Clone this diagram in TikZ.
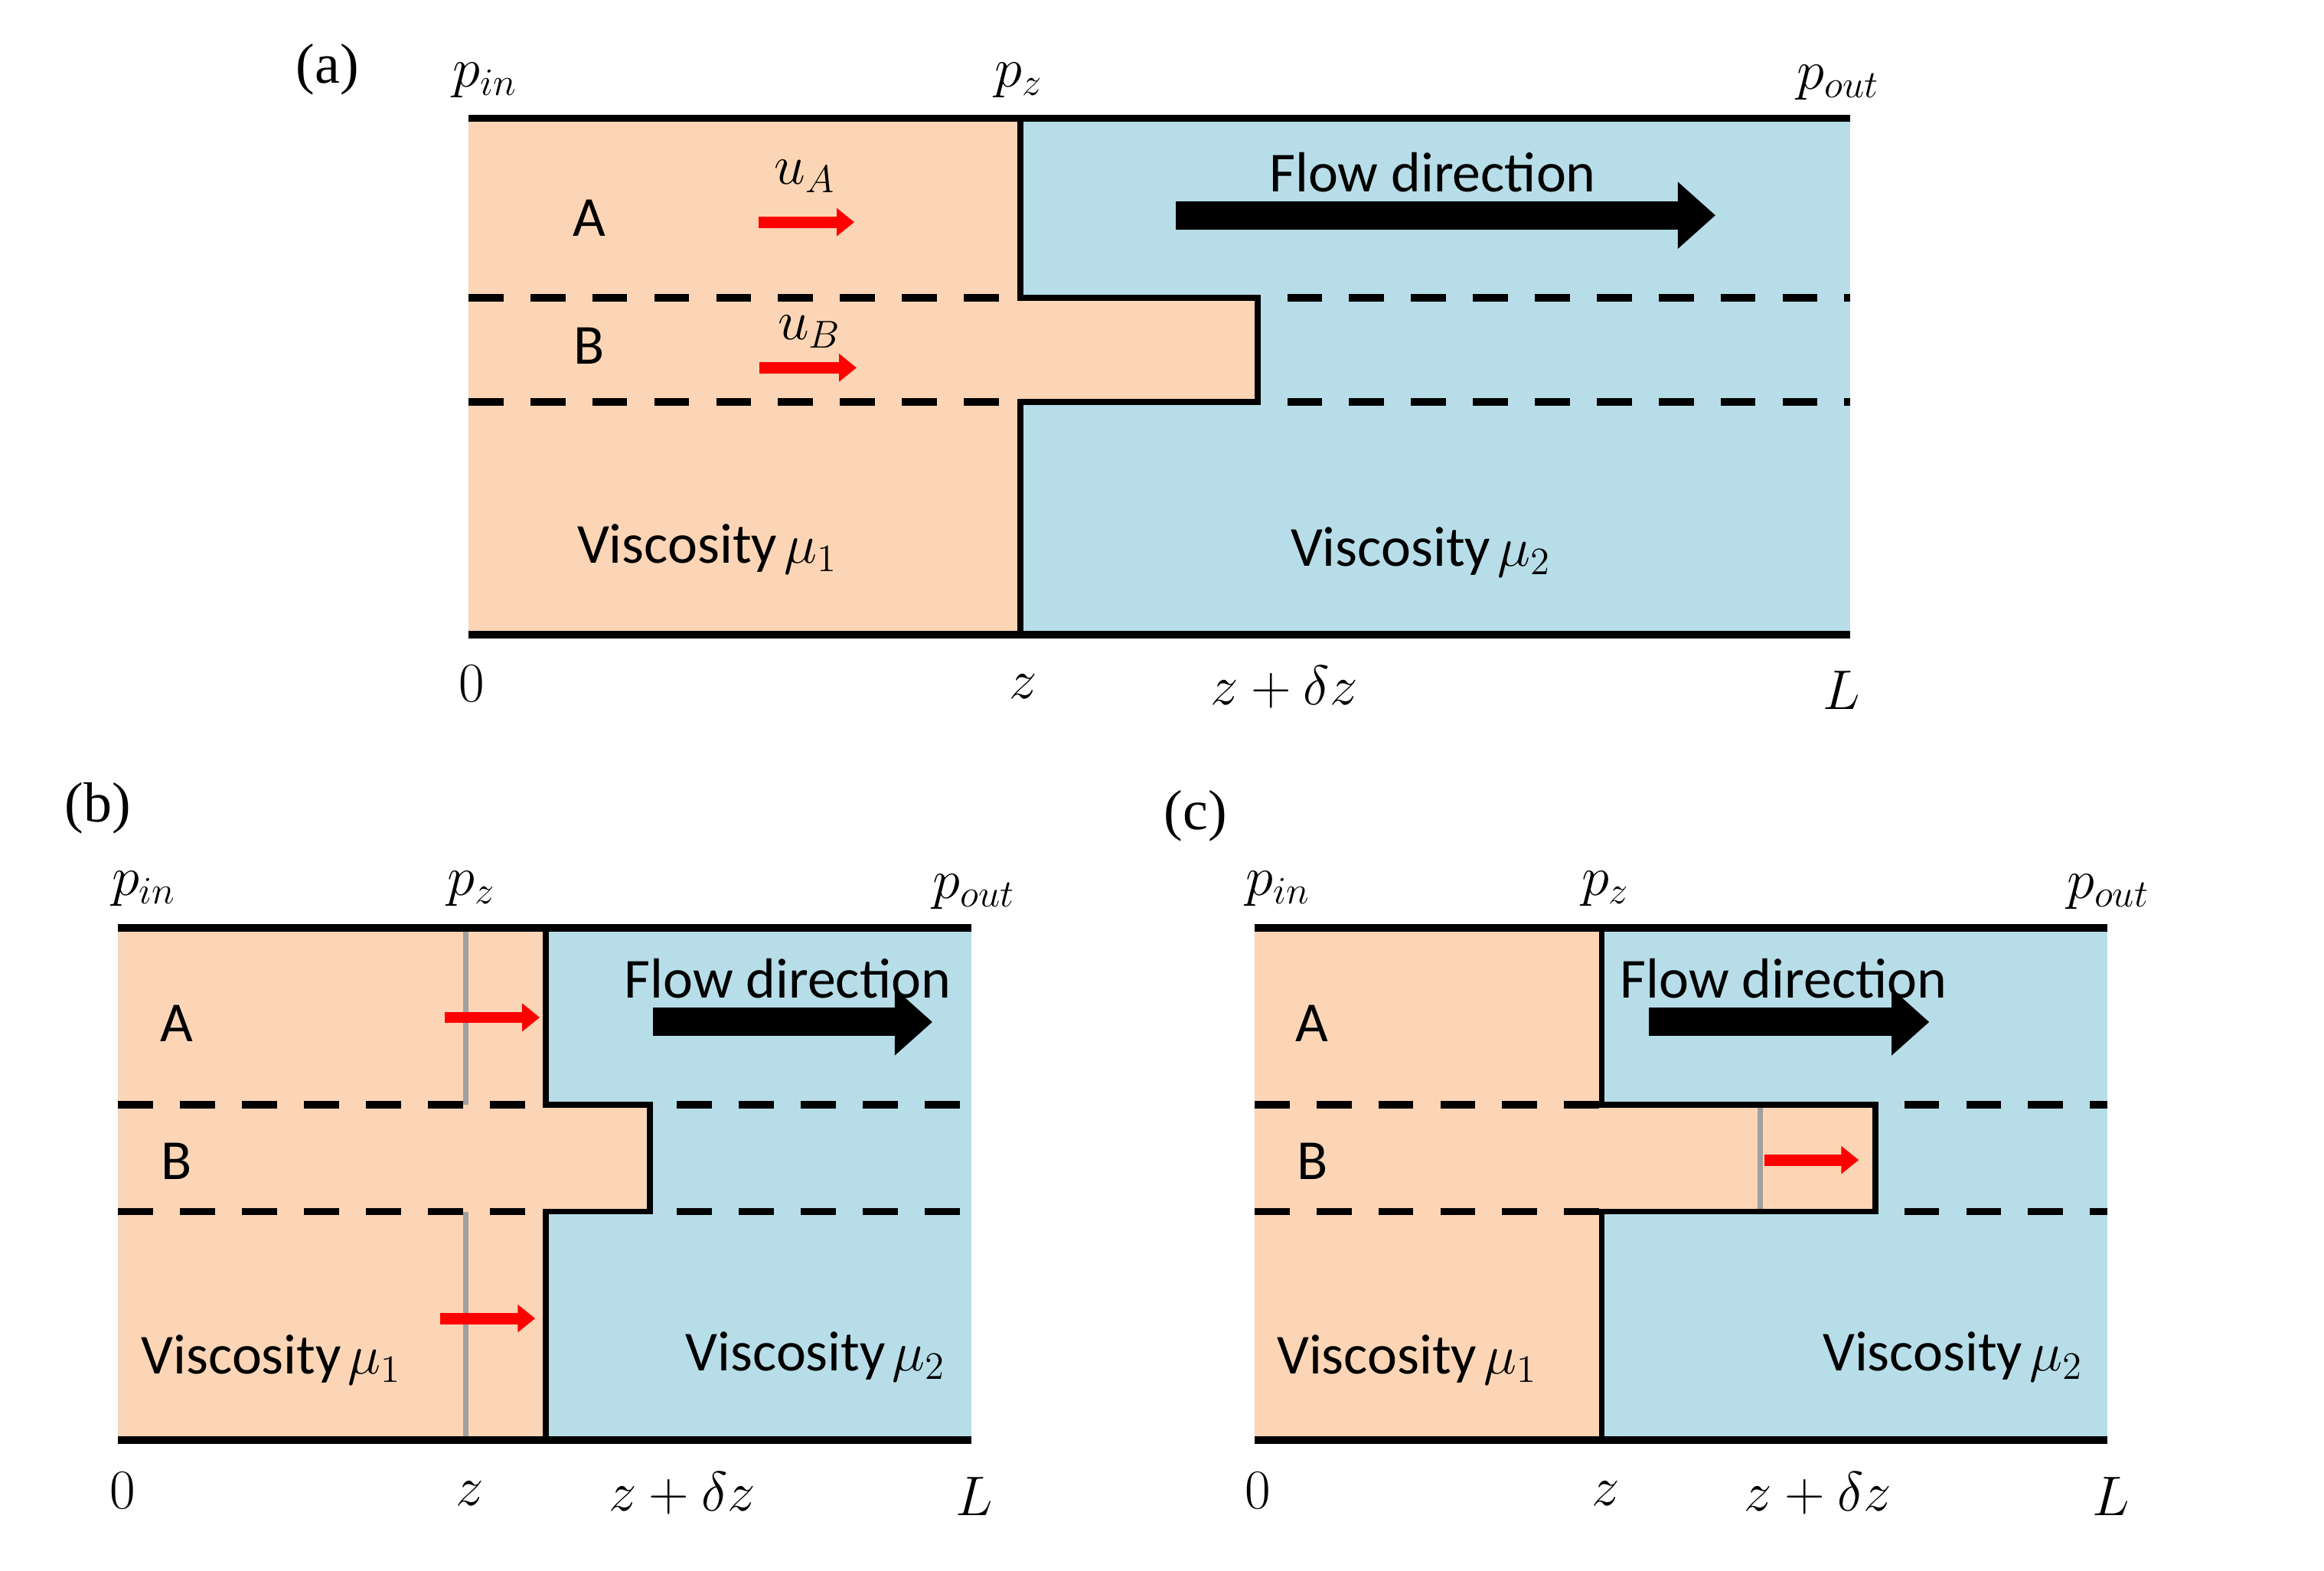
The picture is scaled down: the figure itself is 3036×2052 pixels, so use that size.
\documentclass[tikz,border=0pt]{standalone}
\usepackage{fontspec}
\setmainfont{Liberation Serif}
\newfontfamily\calib{Carlito}
\usetikzlibrary{arrows.meta}
\definecolor{peach}{HTML}{FBD5B5}
\definecolor{aqua}{HTML}{B7DDE8}
\definecolor{gline}{HTML}{A0A0A0}
\tikzset{
  wall/.style={line width=2.8pt},
  iface/.style={line width=2.2pt},
  lane/.style={line width=2.8pt, dash pattern=on 13pt off 10pt},
  gridline/.style={gline, line width=2pt},
  redarrow/.style={red, line width=4.2pt, -{Triangle[length=6.5pt,width=10pt]}},
  bigarrow/.style={black, line width=10.5pt, -{Triangle[length=14pt,width=24pt]}},
  lbl/.style={font=\calib\fontsize{21}{25}\selectfont, inner sep=0pt},
  mth/.style={font=\fontsize{22.5}{27}\selectfont, inner sep=0pt},
  tag/.style={font=\fontsize{21}{25}\selectfont, inner sep=0pt}
}
\begin{document}
\begin{tikzpicture}[x=0.01cm,y=-0.01cm]
\useasboundingbox (0,0) rectangle (3036,2052);
\fill[white] (0,0) rectangle (3036,2052);
\begin{scope}[scale=0.9903]
% ---------------- Panel (a) ----------------
\fill[aqua] (618,156) rectangle (2441,837);
\fill[peach] (618,156) -- (1346,156) -- (1346,393) -- (1659,393) -- (1659,530) -- (1346,530) -- (1346,837) -- (618,837) -- cycle;
\draw[lane] (618,393) -- (1346,393);
\draw[lane] (618,530) -- (1346,530);
\draw[lane] (1698,393) -- (2441,393);
\draw[lane] (1698,530) -- (2441,530);
\draw[wall] (618,156) -- (2441,156);
\draw[wall] (618,837) -- (2441,837);
\draw[iface] (1346,156) -- (1346,393) -- (1659,393) -- (1659,530) -- (1346,530) -- (1346,837);
\draw[redarrow] (1001,293) -- (1127,293);
\draw[redarrow] (1002,485) -- (1130,485);
\draw[bigarrow] (1551,284) -- (2263,284);

\node[tag] (ta) at (432,92) {(a)};
\node[mth] (apin) at (640,106) {$p_{in}$};
\node[mth] (apz) at (1344,106) {$p_z$};
\node[mth] (apout) at (2425,109) {$p_{out}$};
\node[lbl] (aA) at (777,288) {A};
\node[lbl] (aB) at (777,456) {B};
\node[mth] (auA) at (1062,233) {$u_A$};
\node[mth] (auB) at (1068,438) {$u_B$};
\node[lbl] (aflow) at (1890,227) {Flow direction};
\node[lbl] (amu1) at (933,724) {Viscosity\hspace{0.12em}$\mu_1$};
\node[lbl] (amu2) at (1874,728) {Viscosity\hspace{0.12em}$\mu_2$};
\node[mth] (a0) at (622,902) {$0$};
\node[mth] (az) at (1350,906) {$z$};
\node[mth] (azd) at (1694,906) {$z+\delta z$};
\node[mth] (aL) at (2429,910) {$L$};

% ---------------- Panel (b) ----------------
\fill[aqua] (156,1224) rectangle (1281,1899);
\fill[peach] (156,1224) -- (720,1224) -- (720,1457) -- (857,1457) -- (857,1598) -- (720,1598) -- (720,1899) -- (156,1899) -- cycle;
\draw[gridline] (614,1224) -- (614,1457);
\draw[gridline] (614,1598) -- (614,1899);
\draw[lane] (156,1457) -- (720,1457);
\draw[lane] (156,1598) -- (720,1598);
\draw[lane] (893,1457) -- (1281,1457);
\draw[lane] (893,1598) -- (1281,1598);
\draw[wall] (156,1224) -- (1281,1224);
\draw[wall] (156,1899) -- (1281,1899);
\draw[iface] (720,1224) -- (720,1457) -- (857,1457) -- (857,1598) -- (720,1598) -- (720,1899);
\draw[redarrow] (587,1342) -- (712,1342);
\draw[redarrow] (581,1739) -- (706,1739);
\draw[bigarrow] (861,1348) -- (1230,1348);

\node[tag] (tb) at (129,1066) {(b)};
\node[mth] (bpin) at (190,1172) {$p_{in}$};
\node[mth] (bpz) at (622,1172) {$p_z$};
\node[mth] (bpout) at (1285,1176) {$p_{out}$};
\node[lbl] (bA) at (233,1350) {A};
\node[lbl] (bB) at (233,1532) {B};
\node[lbl] (bflow) at (1039,1291) {Flow direction};
\node[lbl] (bmu1) at (358,1794) {Viscosity\hspace{0.12em}$\mu_1$};
\node[lbl] (bmu2) at (1076,1790) {Viscosity\hspace{0.12em}$\mu_2$};
\node[mth] (b0) at (162,1966) {$0$};
\node[mth] (bz) at (620,1970) {$z$};
\node[mth] (bzd) at (900,1970) {$z+\delta z$};
\node[mth] (bL) at (1285,1974) {$L$};

% ---------------- Panel (c) ----------------
\fill[aqua] (1655,1224) rectangle (2780,1899);
\fill[peach] (1655,1224) -- (2113,1224) -- (2113,1457) -- (2474,1457) -- (2474,1598) -- (2113,1598) -- (2113,1899) -- (1655,1899) -- cycle;
\draw[gridline] (2322,1457) -- (2322,1598);
\draw[lane] (1655,1457) -- (2113,1457);
\draw[lane] (1655,1598) -- (2113,1598);
\draw[lane] (2512,1457) -- (2780,1457);
\draw[lane] (2512,1598) -- (2780,1598);
\draw[wall] (1655,1224) -- (2780,1224);
\draw[wall] (1655,1899) -- (2780,1899);
\draw[iface] (2113,1224) -- (2113,1457) -- (2474,1457) -- (2474,1598) -- (2113,1598) -- (2113,1899);
\draw[redarrow] (2328,1530) -- (2452,1530);
\draw[bigarrow] (2175,1348) -- (2545,1348);

\node[tag] (tc) at (1577,1076) {(c)};
\node[mth] (cpin) at (1686,1172) {$p_{in}$};
\node[mth] (cpz) at (2118,1172) {$p_z$};
\node[mth] (cpout) at (2781,1176) {$p_{out}$};
\node[lbl] (cA) at (1731,1350) {A};
\node[lbl] (cB) at (1731,1532) {B};
\node[lbl] (cflow) at (2353,1291) {Flow direction};
\node[lbl] (cmu1) at (1856,1794) {Viscosity\hspace{0.12em}$\mu_1$};
\node[lbl] (cmu2) at (2576,1790) {Viscosity\hspace{0.12em}$\mu_2$};
\node[mth] (c0) at (1659,1966) {$0$};
\node[mth] (cz) at (2118,1970) {$z$};
\node[mth] (czd) at (2398,1970) {$z+\delta z$};
\node[mth] (cL) at (2785,1974) {$L$};
\end{scope}
\end{tikzpicture}
\end{document}
